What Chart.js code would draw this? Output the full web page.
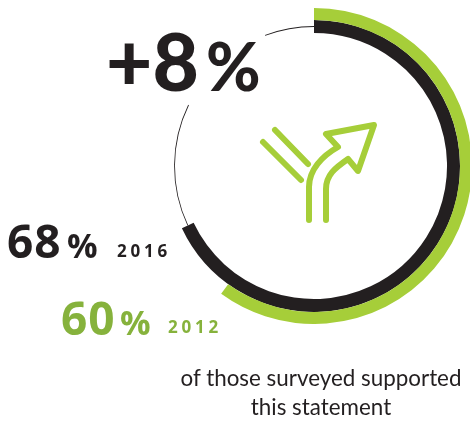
<!DOCTYPE html>
<html>
<head>
<meta charset="utf-8">
<title>Support for the statement, 2012 and 2016</title>
<script src="https://cdn.jsdelivr.net/npm/chart.js@4/dist/chart.umd.min.js"></script>
<style>
    html, body { margin: 0; padding: 0; background: #fff; }
    #stage { position: relative; width: 470px; height: 421px; overflow: hidden; }
    #stage canvas { position: absolute; left: 156px; top: 8px; }
    #overlay { position: absolute; left: 0; top: 0; }
    #overlay text { font-family: Lato, sans-serif; }
    #overlay text.num { font-family: "Open Sans", sans-serif; }
</style>
</head>
<body>
<div id="stage">
    <canvas id="trackChart" width="316" height="316"></canvas>
    <canvas id="ringChart" width="316" height="316"></canvas>
    <svg id="overlay" width="470" height="421" xmlns="http://www.w3.org/2000/svg"></svg>
</div>
<script>
// Survey values
const years = ['2012', '2016'];
const supportShare = [60, 68];
const changeLabel = '+8';
const captionLines = ['of those surveyed supported', 'this statement'];

// Thin track: hidden under the 2016 arc, line, gap behind the big number, line
const trackSegments = [68, 14.2, 12.1, 5.7];

const BLACK = '#231f20';
const RING_GREEN = '#a6ce39';
const TEXT_GREEN = '#86b23c';

const baseOptions = {
    responsive: false,
    animation: false,
    events: [],
    plugins: { legend: { display: false }, tooltip: { enabled: false } }
};

// Thin circle sits mid-way through the black ring
new Chart(document.getElementById('trackChart'), {
    type: 'doughnut',
    data: {
        datasets: [{
            data: trackSegments,
            backgroundColor: ['transparent', BLACK, 'transparent', BLACK],
            borderWidth: 0
        }]
    },
    options: { ...baseOptions, radius: 139.9, cutout: '99.4%' }
});

// Outer ring 2012, inner ring 2016
new Chart(document.getElementById('ringChart'), {
    type: 'doughnut',
    data: {
        datasets: [
            {
                data: [supportShare[0], 100 - supportShare[0]],
                backgroundColor: [RING_GREEN, 'transparent'],
                borderWidth: 0,
                weight: 12
            },
            {
                data: [supportShare[1], 100 - supportShare[1]],
                backgroundColor: [BLACK, 'transparent'],
                borderWidth: 0,
                weight: 13
            }
        ]
    },
    options: { ...baseOptions, radius: 158, cutout: '84.2%' }
});

// Labels and the merging-arrows icon
const overlay = document.getElementById('overlay');

function addSvg(tag, attrs, text) {
    const el = document.createElementNS('http://www.w3.org/2000/svg', tag);
    Object.keys(attrs).forEach(key => el.setAttribute(key, attrs[key]));
    if (text) el.textContent = text;
    overlay.appendChild(el);
    return el;
}

function addLabel(x, y, size, weight, color, text, spacing, anchor, cls) {
    return addSvg('text', {
        x: x,
        y: y,
        fill: color,
        class: cls || '',
        'font-size': size,
        'font-weight': weight,
        'letter-spacing': spacing || 0,
        'text-anchor': anchor || 'start'
    }, text);
}

addLabel(106, 91, 80, 900, BLACK, changeLabel, 0);
addLabel(206, 91, 66, 900, BLACK, '%');

addLabel(7, 258, 46, 700, BLACK, String(supportShare[1]), 1, 'start', 'num');
addLabel(67, 258, 34, 700, BLACK, '%', 0, 'start', 'num');
addLabel(117, 257, 17, 700, BLACK, years[1], 3.8, 'start', 'num');

addLabel(61, 335, 46, 700, TEXT_GREEN, String(supportShare[0]), 1, 'start', 'num');
addLabel(120, 335, 34, 700, TEXT_GREEN, '%', 0, 'start', 'num');
addLabel(168, 333, 17, 700, TEXT_GREEN, years[0], 3.8, 'start', 'num');

addLabel(321, 386, 22.4, 400, BLACK, captionLines[0], 0, 'middle');
addLabel(321, 415, 22.4, 400, BLACK, captionLines[1], 0, 'middle');

const iconPaths = [
    'M263 142 L301 180',
    'M275 130 L308 164',
    'M309 220 L309 187 C309 170 322 156 338 147 L326 134 L374 125 L358 171 L348 159 C335 168 326 175 326 189 L326 220'
];
iconPaths.forEach(d => {
    addSvg('path', {
        d: d,
        fill: 'none',
        stroke: RING_GREEN,
        'stroke-width': 6,
        'stroke-linecap': 'round',
        'stroke-linejoin': 'round'
    });
});
</script>
</body>
</html>
